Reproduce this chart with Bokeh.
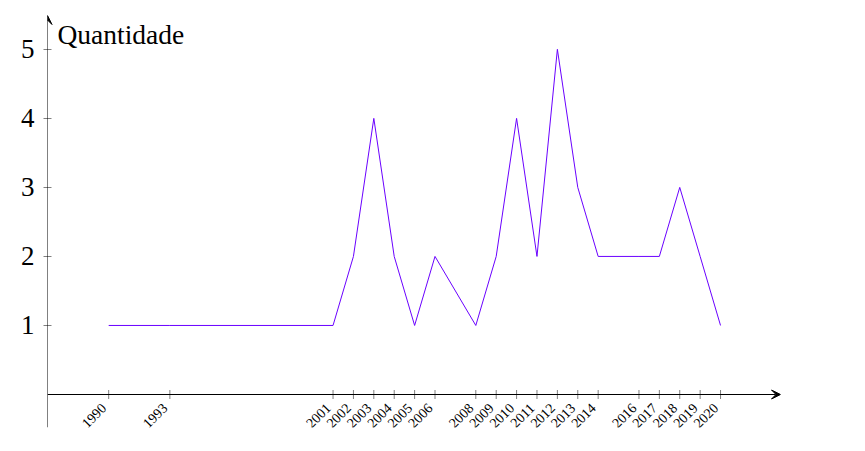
import math
from bokeh.plotting import figure
from bokeh.models import Range1d, FixedTicker, Arrow, VeeHead, Label, ColumnDataSource
from bokeh.core.properties import value
from bokeh.embed import file_html
from bokeh.resources import INLINE

years = [1990, 1993, 2001, 2002, 2003, 2004, 2005, 2006, 2008, 2009, 2010,
         2011, 2012, 2013, 2014, 2016, 2017, 2018, 2019, 2020]
quantidade = [1, 1, 1, 2, 4, 2, 1, 2, 1, 2, 4, 2, 5, 3, 2, 2, 2, 3, 2, 1]
year_labels = [str(y) for y in years]
y_ticks = [1, 2, 3, 4, 5]
y_label = "Quantidade"

FONT = "Liberation Serif"
X0, X1 = 1987.0, 2022.94
Y0, Y1 = -0.478, 5.49

p = figure(width=865, height=451, output_backend="svg", toolbar_location=None,
           x_range=Range1d(X0, X1), y_range=Range1d(Y0, Y1),
           min_border_left=47, min_border_right=85, min_border_top=15, min_border_bottom=24)
p.outline_line_color = None
p.grid.visible = False
p.xaxis.visible = False

ya = p.yaxis[0]
ya.ticker = FixedTicker(ticks=y_ticks)
ya.axis_line_color = None
ya.major_tick_in = 4
ya.major_tick_out = 4
ya.major_tick_line_color = "#808080"
ya.minor_tick_line_color = None
ya.major_label_text_font = FONT
ya.major_label_text_font_size = "27px"
ya.major_label_text_color = "black"
ya.major_label_standoff = 9

# axis arrows
for xs, ys, xe, ye in [(X0, 0, X1, 0), (X0, Y0, X0, Y1)]:
    p.add_layout(Arrow(end=VeeHead(size=9, line_width=1, line_color="black",
                                   fill_color="black"),
                       x_start=xs, y_start=ys, x_end=xe, y_end=ye,
                       line_color="black", line_width=1))

src = ColumnDataSource(dict(x=years, y=[0] * len(years), t=year_labels))
p.scatter("x", "y", source=src, marker="dash", angle=math.pi / 2, size=9,
          line_color="#808080", line_width=1)
p.text("x", "y", text="t", source=src, angle=math.pi / 4, text_align="right",
       text_baseline="middle", x_offset=-5, y_offset=11,
       text_font=value(FONT), text_font_size="14px", text_color="black")

p.line(years, quantidade, line_color="#6a00ff", line_width=1)

p.add_layout(Label(x=X0, y=5.22, x_offset=10, text=y_label, text_font=FONT,
                   text_font_size="27.5px", text_color="black",
                   text_baseline="alphabetic"))

open("out.html", "w").write(file_html(p, INLINE))
